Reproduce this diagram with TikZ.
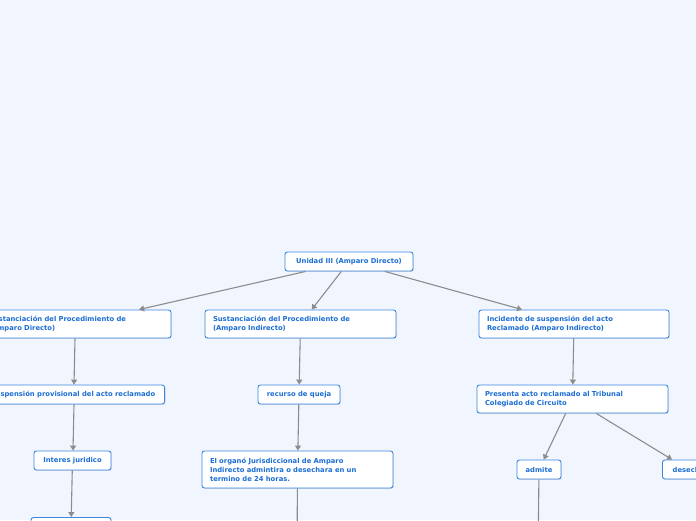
\documentclass[tikz,border=0pt]{standalone}
\usepackage{fontspec}
\setmainfont{DejaVu Sans}
\usepackage{xcolor}
\usetikzlibrary{arrows.meta,shadows}

\definecolor{bgcol}{HTML}{F1F5FE}
\definecolor{boxline}{HTML}{3A86E0}
\definecolor{boxtext}{HTML}{1C6ED4}
\definecolor{edgecol}{HTML}{8C8C8C}

\tikzset{
    topic/.style={draw=boxline, line width=0.9pt, fill=white, rounded corners=2.5pt,
        text=boxtext, font=\fontsize{6.8}{9}\selectfont\bfseries,
        inner xsep=8pt, inner ysep=3pt, minimum height=19pt, align=left,
        drop shadow={shadow xshift=0.7pt, shadow yshift=-0.9pt, opacity=0.25}},
    link/.style={draw=edgecol, line width=1.1pt, -{Triangle[length=5pt,width=6pt]}}
}

\begin{document}
\begin{tikzpicture}[x=1pt,y=-1pt]
    \fill[bgcol] (0,0) rectangle (696,520);
    \useasboundingbox (0,0) rectangle (696,520);
    \clip (0,0) rectangle (696,520);

    % central topic
    \node[topic, minimum width=128pt, align=center] (root) at (349,261.5) {Unidad III (Amparo Directo)};

    % first level
    \node[topic, text width=174pt, minimum height=28pt] (dir) at (76,324) {Sustanciación del Procedimiento de\\(Amparo Directo)};
    \node[topic, text width=175pt, minimum height=28pt] (ind) at (300.5,324) {Sustanciación del Procedimiento de\\(Amparo Indirecto)};
    \node[topic, text width=174pt, minimum height=28pt] (inc) at (574,324) {Incidente de suspensión del acto\\Reclamado (Amparo Indirecto)};

    % second level
    \node[topic, minimum width=183pt, align=center, anchor=east] (susp) at (165,394.5) {Suspensión provisional del acto reclamado};
    \node[topic, minimum width=82pt, align=center] (queja) at (299,394.5) {recurso de queja};
    \node[topic, text width=175pt, minimum height=28pt] (pres) at (572.5,399) {Presenta acto reclamado al Tribunal\\Colegiado de Circuito};

    % third level
    \node[topic, minimum width=77pt, align=center] (inter) at (72.5,460.5) {Interes juridico};
    \node[topic, text width=175pt, minimum height=37pt] (organo) at (297.5,469.5) {El organó Jurisdiccional de Amparo\\Indirecto admintira o desechara en un\\termino de 24 horas.};
    \node[topic, minimum width=44pt, align=center] (admite) at (539,469.5) {admite};
    \node[topic, minimum width=52pt, align=center, anchor=west] (desecha) at (662,469.5) {desecha};

    % cut off at the bottom
    \node[topic, minimum width=80pt] (next) at (71,527) {};
    \coordinate (organoend) at (297,560);
    \coordinate (admiteend) at (538,560);

    \foreach \a/\b in {root/dir, root/ind, root/inc, ind/queja, inc/pres,
                       queja/organo, pres/admite, pres/desecha, inter/next}
        \draw[link] (\a) -- (\b);
    \draw[link] (dir.south -| 75,0) -- (susp.north -| 74,0);
    \draw[link] (susp.south -| 74,0) -- (inter.north -| 73,0);
    \draw[link] (organo) -- (organoend);
    \draw[link] (admite) -- (admiteend);
\end{tikzpicture}
\end{document}
